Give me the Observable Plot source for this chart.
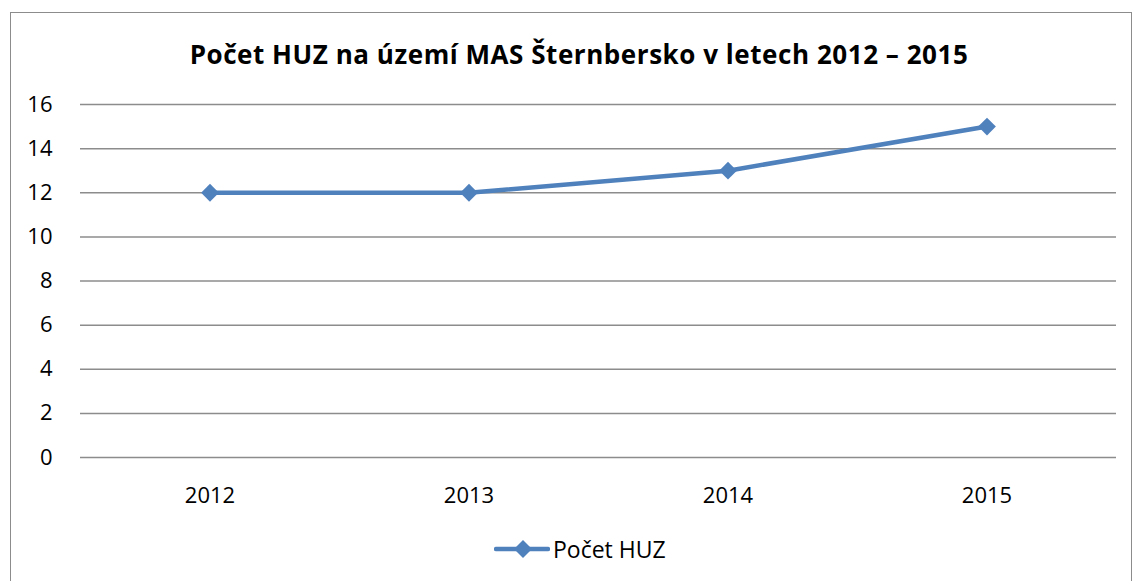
<!DOCTYPE html>
<html>
<head>
<meta charset="utf-8">
<script src="https://cdn.jsdelivr.net/npm/d3@7"></script>
<script src="https://cdn.jsdelivr.net/npm/@observablehq/plot@0.6"></script>
<style>
  html, body { margin: 0; padding: 0; background: #fff; width: 1134px; height: 581px; overflow: hidden; }
  body { position: relative; font-family: "Open Sans", "Liberation Sans", sans-serif; }
  #frame { position: absolute; left: 10px; top: 12px; width: 1122px; height: 580px; border: 1px solid #8c8c8c; box-sizing: border-box; }
  #title { position: absolute; left: 0; top: 35px; width: 1158px; text-align: center; font-size: 26px; letter-spacing: 0.55px; font-weight: bold; color: #000; line-height: 38px; }
  #chart { position: absolute; left: 0; top: 80px; }
  #legend { position: absolute; left: 494px; top: 533px; height: 32px; display: flex; align-items: center; font-size: 23px; color: #000; }
  #legend svg { margin-right: 3px; }
</style>
</head>
<body>
<div id="frame"></div>
<div id="title">Počet HUZ na území MAS Šternbersko v letech 2012 – 2015</div>
<div id="chart"></div>
<div id="legend"></div>
<script>
const years = ["2012", "2013", "2014", "2015"];
const counts = [12, 12, 13, 15];
const yTicks = [0, 2, 4, 6, 8, 10, 12, 14, 16];
const seriesName = "Počet HUZ";
const lineColor = "#4f81bd";

const data = years.map((y, i) => ({year: y, value: counts[i]}));

const chart = Plot.plot({
  width: 1134,
  height: 440,
  marginLeft: 80,
  marginRight: 18,
  marginTop: 24,
  marginBottom: 63,
  style: {fontFamily: "'Open Sans', 'Liberation Sans', sans-serif", fontSize: "22px", color: "#000", background: "transparent"},
  x: {type: "band", domain: years, padding: 0, label: null},
  y: {domain: [0, 16], ticks: yTicks, label: null},
  marks: [
    Plot.gridY(yTicks, {stroke: "#8c8c8c", strokeOpacity: 1, strokeWidth: 1.5}),
    Plot.axisY({ticks: yTicks, tickSize: 0, tickPadding: 28, label: null, fontSize: 22}),
    Plot.axisX({tickSize: 0, tickPadding: 30, label: null, fontSize: 22}),
    Plot.line(data, {x: "year", y: "value", stroke: lineColor, strokeWidth: 4.5}),
    Plot.dot(data, {x: "year", y: "value", symbol: "diamond2", r: 8, fill: lineColor, stroke: "none"})
  ]
});
document.getElementById("chart").appendChild(chart);

// legend
const legend = document.getElementById("legend");
const ns = "http://www.w3.org/2000/svg";
const sw = document.createElementNS(ns, "svg");
sw.setAttribute("width", 56); sw.setAttribute("height", 20);
const ln = document.createElementNS(ns, "line");
ln.setAttribute("x1", 2); ln.setAttribute("x2", 54); ln.setAttribute("y1", 10); ln.setAttribute("y2", 10);
ln.setAttribute("stroke", lineColor); ln.setAttribute("stroke-width", 4.5); ln.setAttribute("stroke-linecap", "round");
sw.appendChild(ln);
const dm = document.createElementNS(ns, "path");
dm.setAttribute("d", "M29,1 L38,10 L29,19 L20,10 Z");
dm.setAttribute("fill", lineColor);
sw.appendChild(dm);
legend.appendChild(sw);
const lt = document.createElement("span");
lt.textContent = seriesName;
legend.appendChild(lt);
</script>
</body>
</html>
